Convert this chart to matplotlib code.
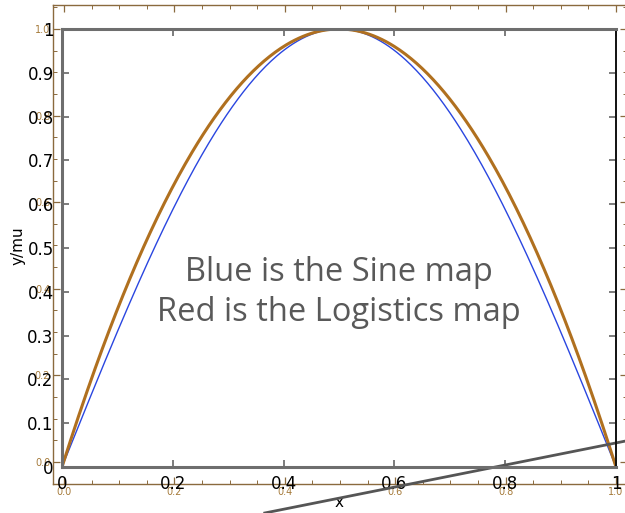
import numpy as np
import matplotlib
matplotlib.use("Agg")
import matplotlib.pyplot as plt
from matplotlib.ticker import MultipleLocator, FixedLocator

# Map parameter and sample grid for the two unimodal maps
mu = 1.0
x = np.linspace(0.0, 1.0, 401)
sine_map = mu * np.sin(np.pi * x)
logistic_map = 4.0 * mu * x * (1.0 - x)

# Tick positions / labels
front_ticks = [0, 0.1, 0.2, 0.3, 0.4, 0.5, 0.6, 0.7, 0.8, 0.9, 1.0]
front_ylabels = ["0", "0.1", "0.2", "0.3", "0.4", "0.5", "0.6", "0.7", "0.8", "0.9", "1"]
front_xticks = [0, 0.2, 0.4, 0.6, 0.8, 1.0]
front_xlabels = ["0", "0.2", "0.4", "0.6", "0.8", "1"]
back_ticks = [0.0, 0.2, 0.4, 0.6, 0.8, 1.0]
back_labels = ["0.0", "0.2", "0.4", "0.6", "0.8", "1.0"]

# Straight guide line (front-axes data units)
guide_x = [0.366, 1.02]
guide_y = [-0.105, 0.060]

annotation = "Blue is the Sine map\nRed is the Logistics map"

fig = plt.figure(figsize=(6.25, 5.13), dpi=100)

# Underlying brown-framed axes
brown = "#8a6a3e"
brown_txt = "#a57a3a"
back = fig.add_axes([53 / 625, 29 / 513, 574 / 625, 479 / 513])
back.set_xlim(-0.02, 1.02)
back.set_ylim(-0.0508, 1.0554)
back.patch.set_alpha(0)
for s in back.spines.values():
    s.set_color(brown)
    s.set_linewidth(1.0)
back.xaxis.set_major_locator(FixedLocator(back_ticks))
back.yaxis.set_major_locator(FixedLocator(back_ticks))
back.set_xticklabels(back_labels)
back.set_yticklabels(back_labels)
back.xaxis.set_minor_locator(MultipleLocator(0.05))
back.yaxis.set_minor_locator(MultipleLocator(0.05))
back.tick_params(which="both", direction="in", top=True, right=True, color=brown,
                 labelcolor=brown_txt, labelsize=7, pad=2)
back.tick_params(which="major", length=5, width=0.9)
back.tick_params(which="minor", length=3, width=0.7)
for lab in back.get_xticklabels() + back.get_yticklabels():
    lab.set_family(["Liberation Sans Narrow", "DejaVu Sans"])

# Front axes with the two maps
front = fig.add_axes([62 / 625, 46 / 513, 554 / 625, 438 / 513])
front.patch.set_alpha(0)
front.set_xlim(0, 1)
front.set_ylim(0, 1)
front.plot(x, sine_map, color="#2a46e0", lw=1.0)
front.plot(x, logistic_map, color="#b0701f", lw=2.2)
for name, s in front.spines.items():
    s.set_color("#6e6e6e")
    s.set_linewidth(2.2)
front.spines["right"].set_color("#111111")
front.spines["right"].set_linewidth(1.4)
front.set_xticks(front_xticks)
front.set_xticklabels(front_xlabels)
front.set_yticks(front_ticks)
front.set_yticklabels(front_ylabels)
front.tick_params(direction="in", top=True, right=True, length=5, width=1.2,
                  color="#666666", labelcolor="black", labelsize=12, pad=6)
front.set_xlabel("x", fontsize=11)
front.set_ylabel("y/mu", fontsize=11)
front.xaxis.set_label_coords(0.5, -0.082)
front.yaxis.set_label_coords(-0.079, 0.505)
front.xaxis.label.set_va("center")
front.yaxis.label.set_va("center")

front.plot(guide_x, guide_y, color="#555555", lw=2.0, clip_on=False)

front.text(0.5, 0.398, annotation, ha="center", va="center", fontsize=23.5,
           color="#595959", family=["Open Sans", "DejaVu Sans"], linespacing=1.3,
           transform=front.transAxes)

fig.savefig("out.png", dpi=100)
